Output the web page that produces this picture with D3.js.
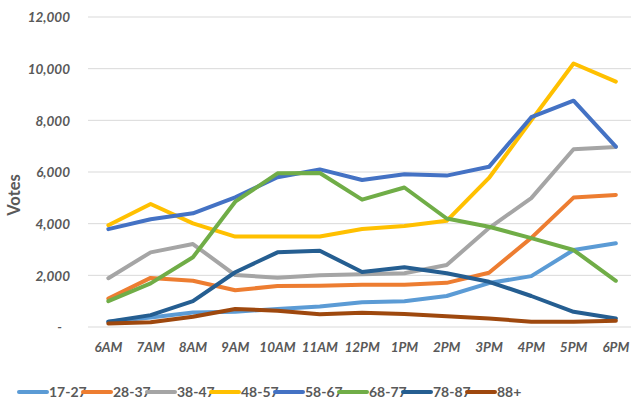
<!DOCTYPE html>
<html><head><meta charset="utf-8">
<script src="https://cdn.jsdelivr.net/npm/d3@7"></script>
<style>body{margin:0;background:#fff}svg{display:block}</style>
</head><body><div id="chart"></div>
<script>
const categories = ["6AM","7AM","8AM","9AM","10AM","11AM","12PM","1PM","2PM","3PM","4PM","5PM","6PM"];
const seriesNames = ["17-27","28-37","38-47","48-57","58-67","68-77","78-87","88+"];
const s17_27 = [200,370,560,590,700,790,960,1000,1200,1700,1970,2980,3240];
const s28_37 = [1100,1900,1790,1420,1590,1600,1640,1640,1710,2100,3450,5010,5110];
const s38_47 = [1890,2890,3210,2010,1910,2000,2040,2080,2400,3830,4990,6880,6970];
const s48_57 = [3940,4760,4010,3500,3500,3500,3790,3910,4110,5770,8000,10200,9500];
const s58_67 = [3790,4170,4400,5020,5800,6100,5690,5910,5860,6200,8120,8760,6980];
const s68_77 = [1000,1690,2700,4850,5950,5960,4930,5400,4200,3880,3440,2980,1790];
const s78_87 = [205,460,1000,2120,2890,2950,2130,2310,2080,1750,1200,590,330];
const s88 = [140,180,400,700,630,490,550,500,420,330,205,205,245];
const yTicks = [0,2000,4000,6000,8000,10000,12000];
const colors = ["#5B9BD5","#ED7D31","#A5A5A5","#FFC000","#4472C4","#70AD47","#255E91","#9E480E"];
const allSeries = [s17_27,s28_37,s38_47,s48_57,s58_67,s68_77,s78_87,s88];

const W=631,H=400;
const svg=d3.select("#chart").append("svg").attr("width",W).attr("height",H);
const font="Lato, 'Open Sans', sans-serif";
const x=d3.scaleBand().domain(categories).range([87.2,637]);
const y=d3.scaleLinear().domain([0,12000]).range([327,17]);

// gridlines
svg.append("g").selectAll("line").data(yTicks).join("line")
  .attr("x1",88).attr("x2",631).attr("y1",d=>y(d)).attr("y2",d=>y(d))
  .attr("stroke","#d9d9d9").attr("stroke-width",1);

// y axis
const yAxis=d3.axisLeft(y).tickValues(yTicks).tickSize(0).tickPadding(0)
  .tickFormat(d=>d===0?"-":d3.format(",")(d));
const ga=svg.append("g").attr("transform","translate(70,0)").call(yAxis);
ga.select(".domain").remove();
ga.selectAll("text").attr("font-family",font).attr("font-size",13.5).attr("font-weight","bold")
  .attr("font-style","italic").attr("fill","#595959").attr("dy","0.35em")
  .attr("dx",d=>d===0?-8:0);

// x axis
const xAxis=d3.axisBottom(x).tickSize(0).tickPadding(0);
const gx=svg.append("g").attr("transform","translate(0,347)").call(xAxis);
gx.select(".domain").remove();
gx.selectAll("text").attr("font-family",font).attr("font-size",13.5).attr("font-weight","bold")
  .attr("font-style","italic").attr("fill","#595959").attr("dy","0.35em");

// y label
svg.append("text").attr("transform","translate(20,195) rotate(-90)").attr("text-anchor","middle")
  .attr("font-family",font).attr("font-size",16.5).attr("font-weight","bold").attr("fill","#595959").text("Votes");

// lines
const line=d3.line().x((d,i)=>x(categories[i])+x.bandwidth()/2).y(d=>y(d));
svg.append("g").selectAll("path").data(allSeries).join("path")
  .attr("d",d=>line(d)).attr("fill","none").attr("stroke",(d,i)=>colors[i])
  .attr("stroke-width",4).attr("stroke-linejoin","round").attr("stroke-linecap","round");

// legend
const lg=svg.append("g").selectAll("g").data(seriesNames).join("g")
  .attr("transform",(d,i)=>`translate(${19+i*64},392)`);
lg.append("line").attr("x1",0).attr("x2",28).attr("y1",0).attr("y2",0)
  .attr("stroke",(d,i)=>colors[i]).attr("stroke-width",4).attr("stroke-linecap","round");
lg.append("text").attr("x",30).attr("y",0).attr("dy","0.35em").attr("font-family",font)
  .attr("font-size",14).attr("font-weight","bold").attr("fill","#595959").text(d=>d);
</script></body></html>
